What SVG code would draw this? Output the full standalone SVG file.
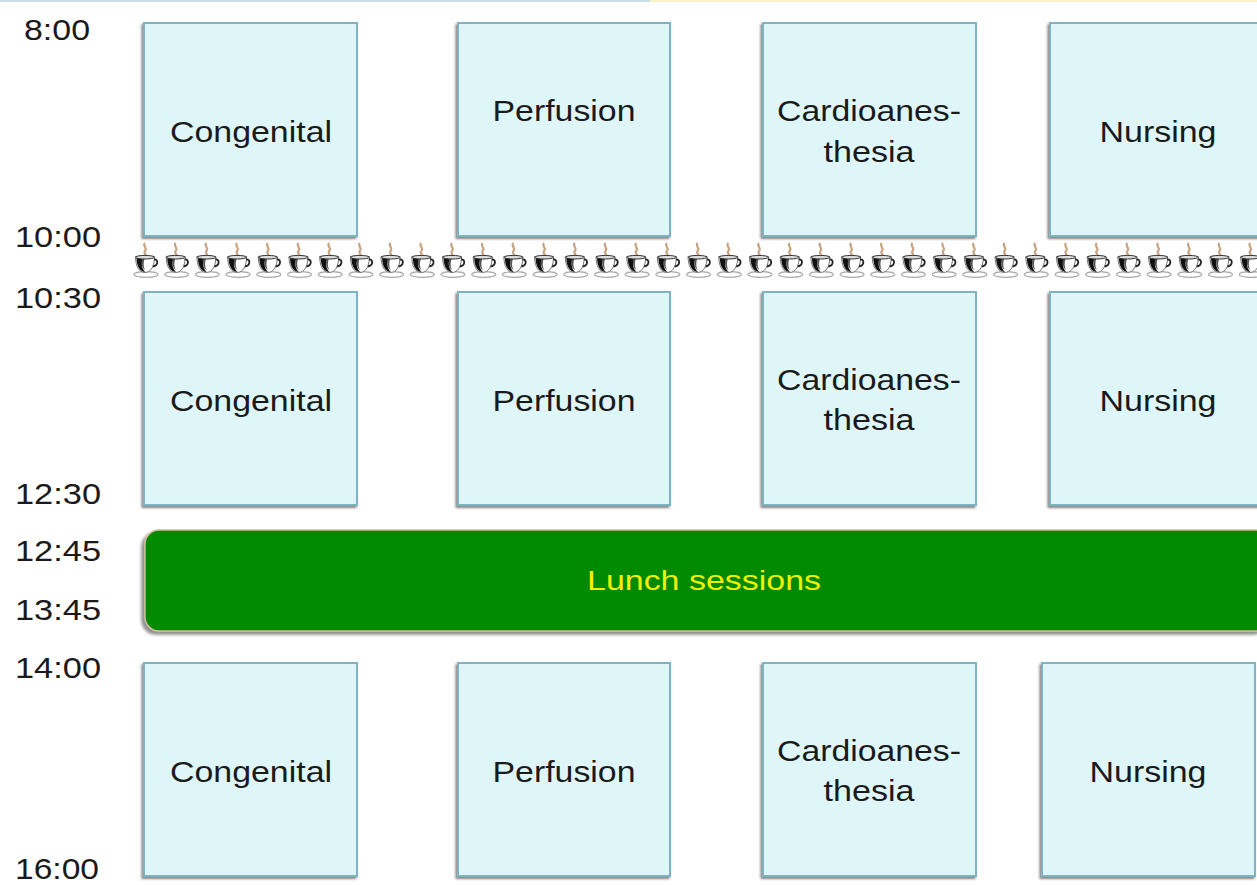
<svg xmlns="http://www.w3.org/2000/svg" xmlns:xlink="http://www.w3.org/1999/xlink" width="1257" height="885" viewBox="0 0 1257 885">
<defs>
<style>
.box{fill:#dff6f9;stroke:#7fb3c3;stroke-width:2;filter:url(#sh)}
.lbl{font-family:"Liberation Sans",Arial,sans-serif;font-size:30px;fill:#1a1a1a;text-anchor:middle}
.tm{font-family:"Liberation Sans",Arial,sans-serif;font-size:30px;fill:#1a1a1a}
.lunch{font-family:"Liberation Sans",Arial,sans-serif;font-size:27px;fill:#f0f000;text-anchor:middle}
</style>
<filter id="sh" x="-10%" y="-10%" width="120%" height="120%">
<feDropShadow dx="-1.5" dy="2" stdDeviation="1" flood-color="#333" flood-opacity="0.6"/>
</filter>
<filter id="sh2" x="-5%" y="-10%" width="110%" height="130%">
<feDropShadow dx="-3" dy="3" stdDeviation="1.5" flood-color="#444" flood-opacity="0.6"/>
</filter>
<symbol id="cup" viewBox="0 0 24 36" width="24" height="36" overflow="visible">
<path d="M11 1 C8 4 14 6 11 9 C9 11 13 12 11 14" fill="none" stroke="#c9a27e" stroke-width="2.2"/>
<ellipse cx="12" cy="32.5" rx="12" ry="2.8" fill="#fff" stroke="#aaa" stroke-width="1.2"/>
<path d="M1.5 14.5 H20.5 C20.5 24 17 30.5 11 30.5 C5 30.5 1.5 24 1.5 14.5 Z" fill="#fff" stroke="#777" stroke-width="1"/>
<path d="M2.5 15.5 C2.5 25 6.5 30 11.5 30 C8 27.5 7 22 8.5 17 Z" fill="#111"/>
<path d="M8.5 16 C7 21 8 26 11 28 C9 24 9.5 20 10.5 17 Z" fill="#555"/>
<path d="M20 17.5 C24.5 17 24.5 23.5 19 24.5" fill="none" stroke="#222" stroke-width="1.8"/>
<ellipse cx="11" cy="15.2" rx="9.5" ry="1.8" fill="#ddd" stroke="#333" stroke-width="1"/>
</symbol>
</defs>
<rect width="1257" height="885" fill="#fff"/>
<line x1="0" y1="1" x2="650" y2="1" stroke="#c9dfe9" stroke-width="2"/>
<line x1="650" y1="1" x2="1257" y2="1" stroke="#fbefc9" stroke-width="2"/>

<g id="times">
<text class="tm" x="24" y="40" textLength="66" lengthAdjust="spacingAndGlyphs">8:00</text>
<text class="tm" x="15" y="247" textLength="86" lengthAdjust="spacingAndGlyphs">10:00</text>
<text class="tm" x="15" y="308" textLength="86" lengthAdjust="spacingAndGlyphs">10:30</text>
<text class="tm" x="15" y="504" textLength="86" lengthAdjust="spacingAndGlyphs">12:30</text>
<text class="tm" x="15" y="561" textLength="86" lengthAdjust="spacingAndGlyphs">12:45</text>
<text class="tm" x="15" y="620" textLength="86" lengthAdjust="spacingAndGlyphs">13:45</text>
<text class="tm" x="15" y="678" textLength="86" lengthAdjust="spacingAndGlyphs">14:00</text>
<text class="tm" x="15" y="879" textLength="84" lengthAdjust="spacingAndGlyphs">16:00</text>
</g>

<g id="coffee-break">
<use xlink:href="#cup" x="134" y="242"/><use xlink:href="#cup" x="164.7" y="242"/><use xlink:href="#cup" x="195.4" y="242"/><use xlink:href="#cup" x="226.1" y="242"/>
<use xlink:href="#cup" x="256.8" y="242"/><use xlink:href="#cup" x="287.5" y="242"/><use xlink:href="#cup" x="318.2" y="242"/><use xlink:href="#cup" x="348.9" y="242"/>
<use xlink:href="#cup" x="379.6" y="242"/><use xlink:href="#cup" x="410.3" y="242"/><use xlink:href="#cup" x="441" y="242"/><use xlink:href="#cup" x="471.7" y="242"/>
<use xlink:href="#cup" x="502.4" y="242"/><use xlink:href="#cup" x="533.1" y="242"/><use xlink:href="#cup" x="563.8" y="242"/><use xlink:href="#cup" x="594.5" y="242"/>
<use xlink:href="#cup" x="625.2" y="242"/><use xlink:href="#cup" x="655.9" y="242"/><use xlink:href="#cup" x="686.6" y="242"/><use xlink:href="#cup" x="717.3" y="242"/>
<use xlink:href="#cup" x="748" y="242"/><use xlink:href="#cup" x="778.7" y="242"/><use xlink:href="#cup" x="809.4" y="242"/><use xlink:href="#cup" x="840.1" y="242"/>
<use xlink:href="#cup" x="870.8" y="242"/><use xlink:href="#cup" x="901.5" y="242"/><use xlink:href="#cup" x="932.2" y="242"/><use xlink:href="#cup" x="962.9" y="242"/>
<use xlink:href="#cup" x="993.6" y="242"/><use xlink:href="#cup" x="1024.3" y="242"/><use xlink:href="#cup" x="1055" y="242"/><use xlink:href="#cup" x="1085.7" y="242"/>
<use xlink:href="#cup" x="1116.4" y="242"/><use xlink:href="#cup" x="1147.1" y="242"/><use xlink:href="#cup" x="1177.8" y="242"/><use xlink:href="#cup" x="1208.5" y="242"/>
<use xlink:href="#cup" x="1239.2" y="242"/>
</g>

<g id="connectors"></g>

<g id="congenital-1"><rect class="box" x="144" y="23" width="213" height="213"/><text class="lbl" x="251" y="142" textLength="162" lengthAdjust="spacingAndGlyphs">Congenital</text></g>
<g id="perfusion-1"><rect class="box" x="458" y="23" width="212" height="213"/><text class="lbl" x="564" y="121" textLength="143" lengthAdjust="spacingAndGlyphs">Perfusion</text></g>
<g id="cardio-1"><rect class="box" x="763" y="23" width="213" height="213"/><text class="lbl" x="869" y="121" textLength="184" lengthAdjust="spacingAndGlyphs">Cardioanes-</text><text class="lbl" x="869" y="162" textLength="91" lengthAdjust="spacingAndGlyphs">thesia</text></g>
<g id="nursing-1"><rect class="box" x="1050" y="23" width="213" height="213"/><text class="lbl" x="1158" y="142" textLength="117" lengthAdjust="spacingAndGlyphs">Nursing</text></g>

<g id="congenital-2"><rect class="box" x="144" y="292" width="213" height="213"/><text class="lbl" x="251" y="411" textLength="162" lengthAdjust="spacingAndGlyphs">Congenital</text></g>
<g id="perfusion-2"><rect class="box" x="458" y="292" width="212" height="213"/><text class="lbl" x="564" y="411" textLength="143" lengthAdjust="spacingAndGlyphs">Perfusion</text></g>
<g id="cardio-2"><rect class="box" x="763" y="292" width="213" height="213"/><text class="lbl" x="869" y="390" textLength="184" lengthAdjust="spacingAndGlyphs">Cardioanes-</text><text class="lbl" x="869" y="430" textLength="91" lengthAdjust="spacingAndGlyphs">thesia</text></g>
<g id="nursing-2"><rect class="box" x="1050" y="292" width="213" height="213"/><text class="lbl" x="1158" y="411" textLength="117" lengthAdjust="spacingAndGlyphs">Nursing</text></g>

<g id="lunch"><rect x="145" y="530" width="1125" height="101" rx="14" fill="#008a00" stroke="#cbbd9c" stroke-width="1.5" filter="url(#sh2)"/><text class="lunch" x="704" y="590" textLength="234" lengthAdjust="spacingAndGlyphs">Lunch sessions</text></g>

<g id="congenital-3"><rect class="box" x="144" y="663" width="213" height="213"/><text class="lbl" x="251" y="782" textLength="162" lengthAdjust="spacingAndGlyphs">Congenital</text></g>
<g id="perfusion-3"><rect class="box" x="458" y="663" width="212" height="213"/><text class="lbl" x="564" y="782" textLength="143" lengthAdjust="spacingAndGlyphs">Perfusion</text></g>
<g id="cardio-3"><rect class="box" x="763" y="663" width="213" height="213"/><text class="lbl" x="869" y="761" textLength="184" lengthAdjust="spacingAndGlyphs">Cardioanes-</text><text class="lbl" x="869" y="801" textLength="91" lengthAdjust="spacingAndGlyphs">thesia</text></g>
<g id="nursing-3"><rect class="box" x="1042" y="663" width="213" height="213"/><text class="lbl" x="1148" y="782" textLength="117" lengthAdjust="spacingAndGlyphs">Nursing</text></g>
</svg>
